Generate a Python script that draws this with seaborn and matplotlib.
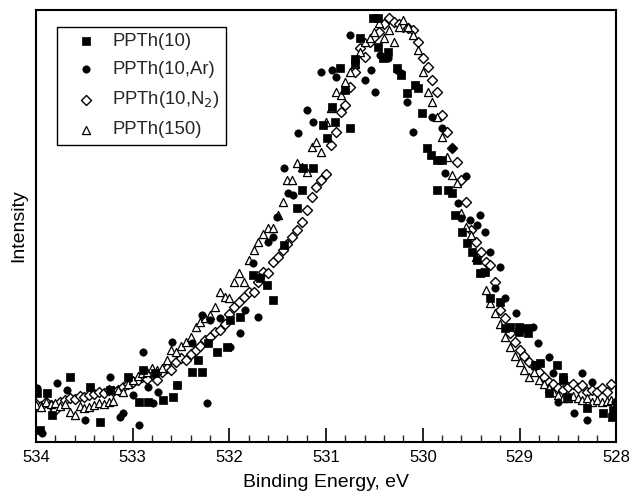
import numpy as np
import pandas as pd
import matplotlib
matplotlib.use("Agg")
import matplotlib.pyplot as plt
import seaborn as sns
from matplotlib.ticker import MultipleLocator

sns.set_theme(style="white")
plt.rcParams['font.family'] = ['Liberation Sans', 'DejaVu Sans']

# ---------------- data (intensity in arbitrary units) ----------------
grid_eV = np.round(np.linspace(534.0, 528.0, 121), 2)

n2_I = [38, 36, 40, 37, 32, 40, 42, 44, 43, 46, 45, 47, 48, 50, 49, 52, 51, 52, 55, 58,
        60, 62, 65, 63, 68, 62, 70, 74, 72, 80, 84, 82, 88, 92, 96, 102, 105, 110, 112, 118,
        128, 135, 140, 145, 150, 150, 160, 170, 169, 180, 185, 192, 198, 205, 212, 220, 232, 245, 255, 262,
        268, 297, 310, 330, 337, 355, 370, 394, 385, 400, 405, 410, 418, 424, 420, 418, 415, 414, 412, 400,
        384, 375, 362, 350, 327, 310, 294, 280, 262, 240, 212, 200, 190, 180, 177, 160, 132, 124, 109, 100,
        92, 86, 80, 76, 70, 65, 60, 58, 54, 52, 55, 58, 54, 57, 50, 52, 50, 54, 50, 58,
        40]

p150_I = [37, 35, 40, 38, 39, 36, 38, 30, 27, 36, 34, 35, 37, 39, 38, 40, 41, 52, 50, 58,
          62, 66, 69, 70, 74, 72, 74, 82, 92, 90, 96, 100, 105, 115, 120, 124, 127, 135, 150, 145,
          144, 160, 169, 160, 182, 192, 200, 208, 214, 214, 227, 240, 262, 262, 279, 275, 270, 295, 300, 290,
          320, 334, 350, 347, 360, 370, 378, 390, 400, 404, 410, 419, 404, 412, 400, 415, 422, 415, 407, 392,
          370, 350, 340, 325, 305, 285, 267, 259, 229, 215, 207, 185, 170, 152, 139, 129, 118, 105, 95, 86,
          80, 72, 65, 70, 62, 58, 54, 50, 47, 44, 44, 46, 44, 42, 44, 40, 42, 40, 41, 42,
          34]

p10_eV = [533.99, 533.96, 533.89, 533.83, 533.65, 533.44, 533.34, 533.23, 533.05, 532.94,
          532.89, 532.84, 532.77, 532.69, 532.58, 532.54, 532.39, 532.33, 532.28, 532.22,
          532.13, 532.02, 531.99, 531.89, 531.76, 531.68, 531.61, 531.55, 531.44, 531.30,
          531.25, 531.24, 531.14, 531.03, 530.99, 530.94, 530.91, 530.86, 530.80, 530.75,
          530.70, 530.70, 530.65, 530.52, 530.46, 530.46, 530.41, 530.36, 530.27, 530.23,
          530.16, 530.08, 530.05, 530.01, 529.96, 529.92, 529.85, 529.85, 529.80, 529.74,
          529.70, 529.67, 529.59, 529.54, 529.49, 529.44, 529.41, 529.36, 529.30, 529.20,
          529.15, 529.10, 529.01, 529.01, 528.92, 528.91, 528.84, 528.79, 528.70, 528.61,
          528.55, 528.55, 528.51, 528.30, 528.14, 528.04, 528.03]
p10_I = [49, 12, 49, 27, 65, 55, 20, 52, 65, 40,
         72, 40, 69, 42, 45, 57, 70, 82, 70, 99,
         90, 95, 122, 125, 167, 164, 157, 142, 197, 234,
         252, 274, 274, 317, 304, 335, 320, 374, 352, 314,
         383, 379, 404, 424, 424, 395, 384, 390, 374, 367,
         349, 357, 354, 329, 294, 287, 282, 252, 282, 252,
         249, 227, 210, 199, 190, 182, 169, 170, 144, 140,
         114, 115, 115, 110, 114, 109, 77, 79, 49, 77,
         65, 62, 45, 34, 29, 25, 32]

ar_eV = [533.99, 533.94, 533.78, 533.68, 533.49, 533.23, 533.13, 533.10, 533.00, 532.94,
         532.89, 532.84, 532.79, 532.74, 532.59, 532.54, 532.39, 532.28, 532.23, 532.20,
         532.10, 531.99, 531.89, 531.84, 531.76, 531.70, 531.68, 531.60, 531.55, 531.51,
         531.44, 531.39, 531.34, 531.29, 531.20, 531.14, 531.05, 530.94, 530.90, 530.75,
         530.60, 530.54, 530.49, 530.44, 530.36, 530.27, 530.23, 530.16, 530.10, 529.90,
         529.80, 529.77, 529.70, 529.64, 529.61, 529.55, 529.51, 529.44, 529.41, 529.36,
         529.30, 529.25, 529.20, 529.15, 529.04, 528.86, 528.81, 528.70, 528.65, 528.60,
         528.55, 528.44, 528.35, 528.30, 528.25, 528.01]
ar_I = [54, 9, 59, 52, 22, 65, 25, 29, 47, 17,
        90, 55, 39, 50, 100, 57, 99, 127, 39, 122,
        124, 95, 109, 132, 179, 125, 165, 200, 205, 225,
        274, 249, 247, 309, 332, 320, 370, 372, 365, 407,
        362, 372, 350, 387, 384, 372, 369, 340, 310, 325,
        314, 269, 294, 239, 224, 266, 222, 217, 227, 210,
        190, 154, 175, 144, 129, 115, 99, 85, 69, 40,
        65, 29, 69, 22, 60, 40]

labels = ["PPTh(10)", "PPTh(10,Ar)", "PPTh(10,N$_2$)", "PPTh(150)"]

df = pd.concat([
    pd.DataFrame({"eV": p10_eV, "I": p10_I, "s": labels[0]}),
    pd.DataFrame({"eV": ar_eV, "I": ar_I, "s": labels[1]}),
    pd.DataFrame({"eV": grid_eV, "I": n2_I, "s": labels[2]}),
    pd.DataFrame({"eV": grid_eV, "I": p150_I, "s": labels[3]}),
], ignore_index=True)

# ---------------- plot ----------------
fig = plt.figure(figsize=(6.32, 4.94), dpi=100)
ax = fig.add_axes([0.057, 0.105, 0.918, 0.875])

styles = {
    labels[2]: dict(marker="D", s=26, facecolor="white", edgecolor="black", linewidth=1.0),
    labels[3]: dict(marker="^", s=34, facecolor="white", edgecolor="black", linewidth=0.9),
    labels[0]: dict(marker="s", s=28, facecolor="black", edgecolor="black", linewidth=0.5),
    labels[1]: dict(marker="o", s=28, facecolor="black", edgecolor="black", linewidth=0.5),
}
handles = {}
for lab in [labels[2], labels[3], labels[0], labels[1]]:
    sub = df[df["s"] == lab]
    st = styles[lab]
    sns.scatterplot(data=sub, x="eV", y="I", ax=ax, marker=st["marker"], s=st["s"],
                    color=st["facecolor"], edgecolor=st["edgecolor"],
                    linewidth=st["linewidth"], legend=False, zorder=3)
    handles[lab] = ax.collections[-1]

ax.set_xlim(534, 528)
ax.set_ylim(0, 432)
ax.set_yticks([])
ax.xaxis.set_major_locator(MultipleLocator(1))
ax.xaxis.set_minor_locator(MultipleLocator(0.2))
ax.tick_params(axis="x", which="major", direction="in", length=10, width=1.2,
               bottom=True, top=False, labelsize=12, pad=6, colors="black")
ax.tick_params(axis="x", which="minor", direction="in", length=5, width=1.0,
               bottom=True, top=False)
for sp in ax.spines.values():
    sp.set_color("black")
    sp.set_linewidth(1.5)

ax.set_xlabel("Binding Energy, eV", fontsize=14, labelpad=6, color="black")
ax.set_ylabel("Intensity", fontsize=14, labelpad=6, color="black")

leg = ax.legend([handles[l] for l in labels], labels, loc="upper left",
                bbox_to_anchor=(0.036, 0.961), borderaxespad=0, fancybox=False,
                edgecolor="black", framealpha=1, fontsize=13.3, labelspacing=0.6,
                handletextpad=0.15, borderpad=0.35, handlelength=2.5)
leg.get_frame().set_linewidth(1.0)

fig.savefig("out.png", dpi=100)
